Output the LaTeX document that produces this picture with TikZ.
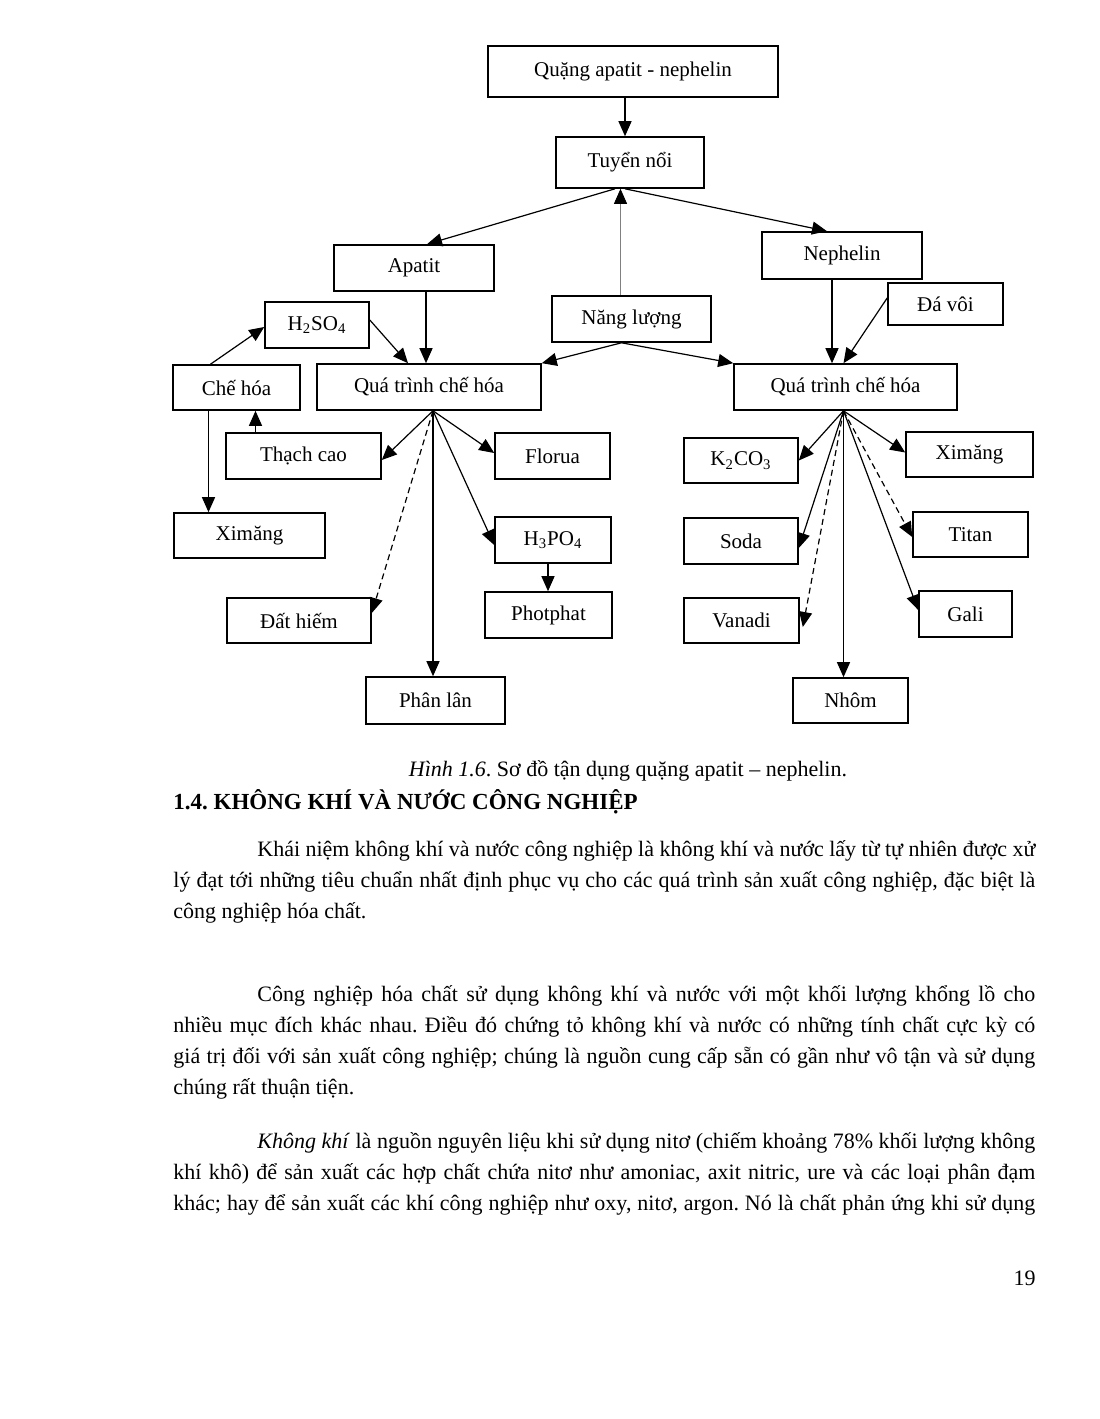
\documentclass[tikz,border=0pt]{standalone}
\usepackage{fontspec}
\setmainfont{Liberation Serif}
\usetikzlibrary{arrows.meta, positioning, calc}
\frenchspacing

\tikzset{
  box/.style={draw, line width=0.8pt, minimum height=23pt, inner sep=2pt, font=\fontsize{10.5}{12}\selectfont},
  arr/.style={-{Triangle[length=7.5pt,width=6.5pt]}, line width=0.6pt},
  darr/.style={arr, dash pattern=on 3pt off 2pt},
  para/.style={anchor=north west, inner sep=0pt, text width=431pt, align=justify, font=\fontsize{11}{15.5}\selectfont},
}

\begin{document}
\begin{tikzpicture}[x=0.5pt, y=-0.5pt]
\useasboundingbox (0,0) rectangle (1099,1419);

% top of the scheme
\node[box, minimum width=145pt, minimum height=25.5pt] (quang) at (633,71.5) {Quặng apatit - nephelin};
\node[box, minimum width=74pt, minimum height=25.5pt] (tuyen) at (630,162.5) {Tuyển nổi};
\node[box, minimum width=80pt] (apatit) at (414,268) {Apatit};
\node[box, minimum width=80pt, minimum height=23.5pt] (nephelin) at (842,255.5) {Nephelin};
\node[box, minimum width=79.5pt] (nangluong) at (631.5,319) {Năng lượng};
\node[box, minimum width=57.5pt, minimum height=21pt] (davoi) at (945.5,304) {Đá vôi};
\node[box, minimum width=112pt] (qtchL) at (429,387) {Quá trình chế hóa};
\node[box, minimum width=111.5pt] (qtchR) at (845.5,387) {Quá trình chế hóa};
\node[box, minimum width=52pt] (h2so4) at (317,325) {H\textsubscript{2}SO\textsubscript{4}};
\node[box, minimum width=63.5pt, minimum height=22.5pt] (chehoa) at (236.5,387.5) {Chế hóa};

% apatit branch
\node[box, minimum width=75.5pt, minimum height=22.5pt] (ximangL) at (249.5,535.5) {Ximăng};
\node[box, minimum width=77.5pt] (thachcao) at (303.5,456) {Thạch cao};
\node[box, minimum width=57.5pt] (florua) at (552.5,456) {Florua};
\node[box, minimum width=58pt] (h3po4) at (553,540) {H\textsubscript{3}PO\textsubscript{4}};
\node[box, minimum width=63.5pt] (photphat) at (548.5,615) {Photphat};
\node[box, minimum width=72pt, minimum height=22.5pt] (dathiem) at (299,620.5) {Đất hiếm};
\node[box, minimum width=69.5pt, minimum height=23.5pt] (phanlan) at (435.5,700.5) {Phân lân};

% nephelin branch
\node[box, minimum width=57pt, minimum height=22.5pt] (k2co3) at (741,460.5) {K\textsubscript{2}CO\textsubscript{3}};
\node[box, minimum width=63.5pt, minimum height=22.5pt] (ximangR) at (969.5,454.5) {Ximăng};
\node[box, minimum width=57.5pt, minimum height=22.5pt] (titan) at (970.5,534.5) {Titan};
\node[box, minimum width=57pt] (soda) at (741,541) {Soda};
\node[box, minimum width=57.5pt, minimum height=22.5pt] (vanadi) at (741.5,620.5) {Vanadi};
\node[box, minimum width=46.5pt] (gali) at (965.5,614) {Gali};
\node[box, minimum width=57.5pt, minimum height=22.5pt] (nhom) at (850.5,700.5) {Nhôm};

\coordinate (hubL) at ([xshift=2pt]qtchL.south);
\coordinate (hubR) at ([xshift=-1pt]qtchR.south);

\draw[arr] ([xshift=-4pt]quang.south) -- ([xshift=-4pt]quang.south |- tuyen.north);
\draw[arr] ([xshift=-7.5pt]tuyen.south) -- ([xshift=6.5pt]apatit.north);
\draw[arr] ([xshift=-2.5pt]tuyen.south) -- ([xshift=-7.5pt]nephelin.north);
\draw[-{Triangle[length=7.5pt,width=6.5pt,black]}, gray, line width=0.4pt] ([xshift=-5.5pt]nangluong.north) -- ([xshift=-5.5pt]nangluong.north |- tuyen.south);
\draw[arr] ([xshift=-5pt]nangluong.south) -- (qtchL.north east);
\draw[arr] ([xshift=-5pt]nangluong.south) -- (qtchR.north west);
\draw[arr] ([xshift=-5pt]nephelin.south) -- ([xshift=-5pt]nephelin.south |- qtchR.north);
\draw[arr] ([yshift=3pt]davoi.west) -- ([xshift=-1pt]qtchR.north);
\draw[arr] ([xshift=6pt]apatit.south) -- ([xshift=6pt]apatit.south |- qtchL.north);
\draw[arr] ([yshift=2.5pt]h2so4.east) -- ([xshift=-10.5pt]qtchL.north);
\draw[arr] ([xshift=-13pt]chehoa.north) -- ([yshift=-1pt]h2so4.west);
\draw[arr] ([xshift=-14pt]chehoa.south) -- ([xshift=-14pt]chehoa.south |- ximangL.north);
\draw[arr] ([xshift=-24pt]thachcao.north) -- ([xshift=-24pt]thachcao.north |- chehoa.south);

\draw[arr] (hubL) -- ([yshift=-2pt]thachcao.east);
\draw[arr] (hubL) -- ([yshift=1.5pt]florua.west);
\draw[arr] (hubL) -- ([yshift=-2.5pt]h3po4.west);
\draw[darr] (hubL) -- ([yshift=3.75pt]dathiem.east);
\draw[arr] (hubL) -- (hubL |- phanlan.north);
\draw[arr] ([xshift=-2.5pt]h3po4.south) -- ([xshift=-2.5pt]h3po4.south |- photphat.north);

\draw[arr] (hubR) -- (k2co3.east);
\draw[arr] (hubR) -- ([yshift=1pt]ximangR.west);
\draw[darr] (hubR) -- ([yshift=-1.25pt]titan.west);
\draw[arr] (hubR) -- ([yshift=-3.5pt]soda.east);
\draw[darr] (hubR) -- ([xshift=1.5pt,yshift=-3.25pt]vanadi.east);
\draw[arr] (hubR) -- ([yshift=2pt]gali.west);
\draw[arr] (hubR) -- (hubR |- nhom.north);

% caption and text of the page
\node[anchor=base, inner sep=0pt, font=\fontsize{11}{13}\selectfont] (caption) at (628,776) {\textit{Hình 1.6}. Sơ đồ tận dụng quặng apatit – nephelin.};
\node[anchor=base west, inner sep=0pt, font=\fontsize{11.5}{13}\selectfont\bfseries] (heading) at (173,809) {1.4. KHÔNG KHÍ VÀ NƯỚC CÔNG NGHIỆP};
\node[para] (para1) at (173,834) {\strut\hspace*{42pt}Khái niệm không khí và nước công nghiệp là không khí và nước lấy từ tự nhiên được xử\linebreak
 lý đạt tới những tiêu chuẩn nhất định phục vụ cho các quá trình sản xuất công nghiệp, đặc biệt là\linebreak
 công nghiệp hóa chất.};
\node[para] (para2) at (173,979) {\strut\hspace*{42pt}Công nghiệp hóa chất sử dụng không khí và nước với một khối lượng khổng lồ cho\linebreak
 nhiều mục đích khác nhau. Điều đó chứng tỏ không khí và nước có những tính chất cực kỳ có\linebreak
 giá trị đối với sản xuất công nghiệp; chúng là nguồn cung cấp sẵn có gần như vô tận và sử dụng\linebreak
 chúng rất thuận tiện.};
\node[para] (para3) at (173,1126) {\strut\hspace*{42pt}\textit{Không khí} là nguồn nguyên liệu khi sử dụng nitơ (chiếm khoảng 78\% khối lượng không\linebreak
 khí khô) để sản xuất các hợp chất chứa nitơ như amoniac, axit nitric, ure và các loại phân đạm\linebreak
 khác; hay để sản xuất các khí công nghiệp như oxy, nitơ, argon. Nó là chất phản ứng khi sử dụng\linebreak\mbox{}};
\node[anchor=base east, inner sep=0pt, font=\fontsize{11}{13}\selectfont] (pagenum) at (1036,1285) {19};
\end{tikzpicture}
\end{document}
